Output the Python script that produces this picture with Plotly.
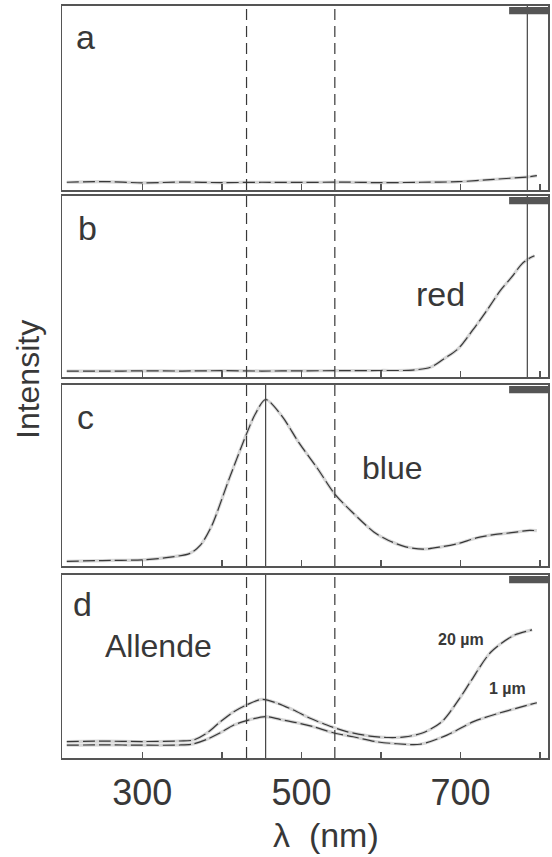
import plotly.graph_objects as go

# ---------------- data ----------------
x_range = [199, 810]
tick_vals = [300, 400, 500, 600, 700, 800]
tick_text = ["300", "", "500", "", "700", ""]

dashed_lines = [431, 542]        # nm, dashed vertical guides (all panels)
solid_ab = 784                   # nm, solid vertical guide in panels a, b
solid_cd = 455                   # nm, solid vertical guide in panels c, d

# panel a
a_wl = [205, 250, 300, 350, 400, 450, 500, 550, 600, 650, 697, 742, 787, 796]
a_int = [4.2, 4.6, 3.9, 4.3, 4.0, 4.2, 4.1, 4.3, 4.0, 4.2, 4.5, 5.8, 7.2, 7.8]

# panel b (red)
b_wl = [205, 250, 300, 350, 400, 450, 500, 550, 600, 640, 663, 679, 697, 715, 733, 750, 764, 777, 787, 793]
b_int = [3.3, 3.2, 3.4, 3.3, 3.5, 3.3, 3.4, 3.5, 3.6, 3.8, 5.5, 10.0, 15.6, 25.7, 36.7, 47.7, 55.0, 62.4, 65.7, 67.0]

# panel c (blue)
c_wl = [205, 250, 300, 330, 360, 373, 387, 409, 431, 442, 455, 476, 497, 520, 542, 564, 591, 609, 631, 653, 676, 697, 720, 742, 764, 787, 796]
c_int = [2.6, 3.0, 3.4, 4.6, 7.0, 11.5, 22.0, 48.0, 73.0, 84.0, 92.0, 82.5, 68.0, 54.0, 39.7, 29.7, 18.8, 14.2, 10.6, 9.3, 10.6, 12.4, 15.5, 17.3, 18.4, 19.7, 19.5]

# panel d (Allende)
d20_wl = [205, 250, 300, 347, 364, 381, 398, 415, 431, 450, 469, 490, 511, 532, 557, 586, 610, 630, 653, 677, 698, 713, 738, 767, 790]
d20_int = [9.0, 9.2, 9.0, 9.3, 9.8, 13.6, 19.8, 25.3, 29.0, 32.0, 30.0, 26.2, 21.7, 18.0, 14.4, 12.0, 11.2, 11.5, 13.8, 20.0, 32.0, 42.0, 57.8, 67.0, 70.0]
d1_wl = [205, 250, 300, 347, 364, 381, 398, 415, 431, 455, 473, 494, 515, 540, 565, 594, 620, 649, 683, 717, 750, 796]
d1_int = [7.0, 7.2, 7.0, 7.1, 7.7, 10.2, 13.8, 18.0, 20.4, 22.6, 21.1, 19.3, 17.1, 13.8, 11.6, 8.9, 7.8, 7.5, 12.5, 20.0, 24.7, 30.2]

# ---------------- layout geometry ----------------
W, H = 552, 857
ML, MR, MT, MB = 62, 4, 6, 99
plot_w = W - ML - MR
plot_h = H - MT - MB
panels_px = [(6, 190), (196, 377), (385, 566), (575, 758)]   # top, bottom in px


def dom(top, bot):
    return [(H - MB - bot) / plot_h, (H - MB - top) / plot_h]


INK = "#383838"
FRAME = "#555555"
HALO = "#d6d6d6"
FONT = "Liberation Sans, Arial, sans-serif"

fig = go.Figure()

series = [
    (1, a_wl, a_int),
    (2, b_wl, b_int),
    (3, c_wl, c_int),
    (4, d20_wl, d20_int),
    (4, d1_wl, d1_int),
]
for k, xs, ys in series:
    xa = "x" if k == 1 else f"x{k}"
    ya = "y" if k == 1 else f"y{k}"
    fig.add_trace(go.Scatter(x=xs, y=ys, xaxis=xa, yaxis=ya, mode="lines",
                             line=dict(color=HALO, width=3.2, shape="spline", smoothing=0.8),
                             hoverinfo="skip", showlegend=False))
    fig.add_trace(go.Scatter(x=xs, y=ys, xaxis=xa, yaxis=ya, mode="lines",
                             line=dict(color=INK, width=1.2, dash="12px,4px", shape="spline", smoothing=0.8),
                             hoverinfo="skip", showlegend=False))

layout = dict(
    template="none",
    width=W, height=H,
    margin=dict(l=ML, r=MR, t=MT, b=MB, pad=0),
    paper_bgcolor="white", plot_bgcolor="white",
    font=dict(family=FONT, color=INK),
    showlegend=False,
    hovermode=False,
    dragmode=False,
)

shapes = []
for i, (top, bot) in enumerate(panels_px, start=1):
    sfx = "" if i == 1 else str(i)
    last = i == 4
    layout[f"xaxis{sfx}"] = dict(
        domain=[0, 1], anchor=f"y{sfx}", range=x_range, automargin=False,
        showline=True, mirror=True, linecolor=FRAME, linewidth=2,
        ticks="inside", ticklen=6, tickwidth=1.5, tickcolor=FRAME,
        tickvals=tick_vals, ticktext=tick_text,
        showticklabels=last, showgrid=False, zeroline=False,
        tickfont=dict(size=36, color=INK, family=FONT),
        ticklabelstandoff=2,
    )
    layout[f"yaxis{sfx}"] = dict(
        domain=dom(top, bot), anchor=f"x{sfx}", range=[0, 100], automargin=False,
        showline=True, mirror=True, linecolor=FRAME, linewidth=1.5,
        showticklabels=False, ticks="", showgrid=False, zeroline=False,
    )
    xr = "x" if i == 1 else f"x{i}"
    yd = ("y" if i == 1 else f"y{i}") + " domain"
    for xv in dashed_lines:
        shapes.append(dict(type="line", xref=xr, yref=yd, x0=xv, x1=xv, y0=0, y1=1,
                           line=dict(color=INK, width=1.2, dash="11px,6px")))
    sv = solid_ab if i <= 2 else solid_cd
    shapes.append(dict(type="line", xref=xr, yref=yd, x0=sv, x1=sv, y0=0, y1=1,
                       line=dict(color="#444444", width=1.2)))
    # small dark instrument tag at top right of each panel
    shapes.append(dict(type="rect", xref=xr + " domain", yref=yd, x0=0.92, x1=1.0,
                       y0=0.955, y1=0.995, fillcolor="#555555", line=dict(width=0)))

layout["shapes"] = shapes

ann = []


def label(k, x, y, text, size, **kw):
    xr = "x" if k == 1 else f"x{k}"
    yr = ("y" if k == 1 else f"y{k}")
    ann.append(dict(xref=xr, yref=yr, x=x, y=y, text=text, showarrow=False,
                    xanchor="center", yanchor="middle",
                    font=dict(size=size, color=INK, family=FONT), **kw))


label(1, 229, 83, "a", 34)
label(2, 231, 82.5, "b", 34)
label(3, 229, 82.5, "c", 34)
label(4, 225, 84, "d", 34)
label(2, 675, 45.6, "red", 34)
label(3, 614, 54, "blue", 32)
label(4, 320, 61.4, "Allende", 32)
label(4, 701, 65, "<b>20 µm</b>", 16)
label(4, 759, 38, "<b>1 µm</b>", 16)

# axis titles
ann.append(dict(xref="paper", yref="paper", x=(28 - ML) / plot_w, y=(H - MB - 380) / plot_h,
                xanchor="center", yanchor="middle",
                text="Intensity", textangle=-90, showarrow=False,
                font=dict(size=32, color=INK, family=FONT)))
ann.append(dict(xref="paper", yref="paper", x=(326 - ML) / plot_w, y=(H - MB - 856) / plot_h,
                xanchor="center", yanchor="bottom",
                text="λ  (nm)", showarrow=False,
                font=dict(size=34, color=INK, family=FONT)))
layout["annotations"] = ann

fig.update_layout(**layout)
# remove the browser's default page margin so the figure fills the window exactly
fig.write_html("out.html",
               config={"displayModeBar": False, "staticPlot": True},
               post_script="document.body.style.margin='0';document.body.style.overflow='hidden';")
